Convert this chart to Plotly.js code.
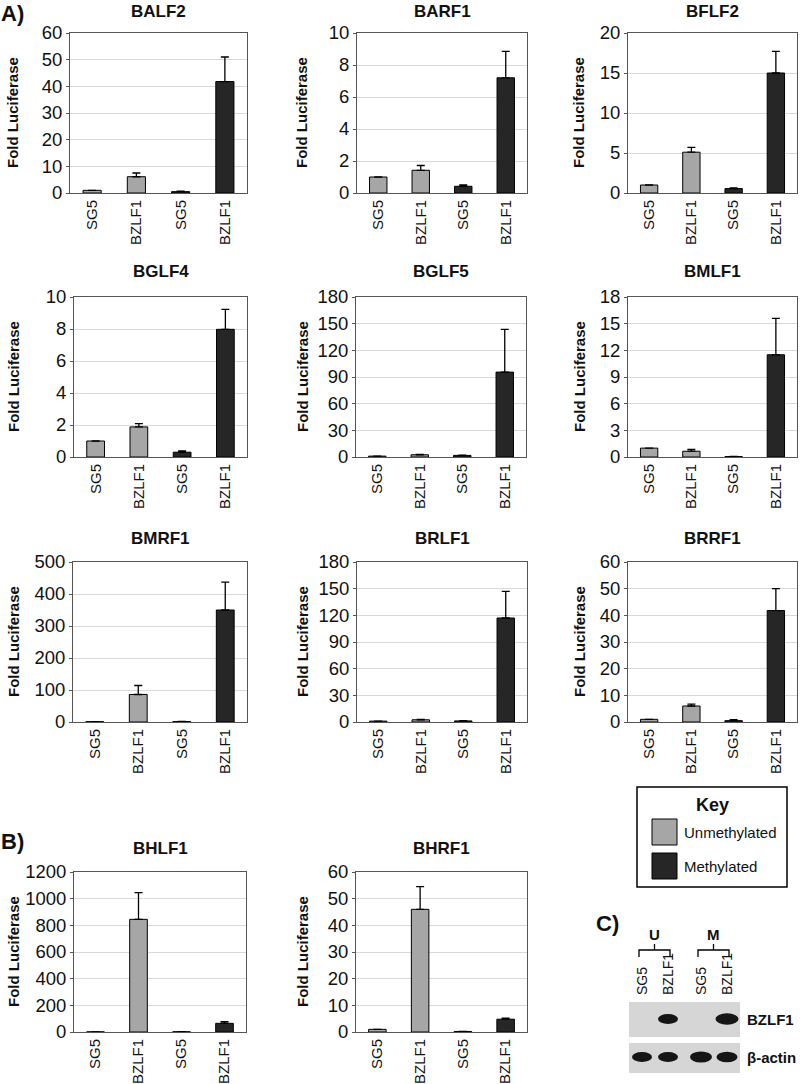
<!DOCTYPE html>
<html>
<head>
<meta charset="utf-8">
<script src="https://cdn.plot.ly/plotly-3.0.1.min.js"></script>
<style>html,body{margin:0;padding:0;background:#fff}#chart{width:800px;height:1084px}</style>
</head>
<body>
<div id="chart"></div>
<script>
// ---------- DATA ----------
const categories = ['SG5', 'BZLF1', 'SG5', 'BZLF1'];
const groups = ['Unmethylated', 'Unmethylated', 'Methylated', 'Methylated'];
const panelNames = ['BALF2','BARF1','BFLF2','BGLF4','BGLF5','BMLF1','BMRF1','BRLF1','BRRF1','BHLF1','BHRF1'];

const BALF2 = [1.0, 6.1, 0.5, 41.8];   const BALF2_err = [null, 1.4, 0.2, 9.2];
const BARF1 = [1.0, 1.42, 0.42, 7.2];  const BARF1_err = [null, 0.3, 0.08, 1.65];
const BFLF2 = [1.0, 5.1, 0.55, 15.0];  const BFLF2_err = [null, 0.6, 0.1, 2.7];
const BGLF4 = [1.0, 1.88, 0.3, 7.98];  const BGLF4_err = [null, 0.2, 0.08, 1.25];
const BGLF5 = [1.0, 2.5, 1.8, 95.5];   const BGLF5_err = [null, 0.4, 0.3, 48];
const BMLF1 = [1.0, 0.65, 0.05, 11.5]; const BMLF1_err = [null, 0.2, 0.02, 4.1];
const BMRF1 = [1.0, 86, 1.5, 350];     const BMRF1_err = [null, 28, 0.5, 87];
const BRLF1 = [1.0, 2.5, 1.2, 117];    const BRLF1_err = [null, 0.4, 0.2, 30];
const BRRF1 = [1.0, 6.0, 0.5, 41.8];   const BRRF1_err = [null, 0.7, 0.4, 8.2];
const BHLF1 = [1.0, 845, 1.5, 65];     const BHLF1_err = [null, 200, 0.5, 12];
const BHRF1 = [1.0, 46, 0.2, 4.8];     const BHRF1_err = [null, 8.5, 0.05, 0.4];

const yMax  = [60, 10, 20, 10, 180, 18, 500, 180, 60, 1200, 60];
const yStep = [10, 2, 5, 2, 30, 3, 100, 30, 10, 200, 10];

const keyLabels = ['Unmethylated', 'Methylated'];
const blotLanes = ['SG5', 'BZLF1', 'SG5', 'BZLF1'];
const blotGroups = ['U', 'M'];
const bzlf1Band = [0, 1, 0, 1.15];
const actinBand = [1, 1, 1.1, 1.05];

// ---------- STYLE / LAYOUT ----------
const W = 800, H = 1084;
const px = x => x / W;
const py = y => 1 - y / H;
const GRAY = '#a6a6a6', DARK = '#262626';
const groupColor = {Unmethylated: GRAY, Methylated: DARK};
const FONT = 'Arial, "Liberation Sans", sans-serif';

const seriesVals = [BALF2, BARF1, BFLF2, BGLF4, BGLF5, BMLF1, BMRF1, BRLF1, BRRF1, BHLF1, BHRF1];
const seriesErr = [BALF2_err, BARF1_err, BFLF2_err, BGLF4_err, BGLF5_err, BMLF1_err, BMRF1_err, BRLF1_err, BRRF1_err, BHLF1_err, BHRF1_err];

// plot boxes in pixels [x0, x1, y0, y1]
const boxes = [
  [70, 247, 33, 193], [357, 527, 33, 193], [628, 797, 33, 193],
  [74, 247, 297, 457], [356, 526, 297, 457], [628, 797, 297, 457],
  [73, 247, 562, 722], [357, 527, 562, 722], [628, 797, 562, 722],
  [74, 246, 872, 1032], [356, 527, 872, 1032]
];
const titleY = [12, 12, 12, 272, 272, 272, 538, 538, 538, 848, 848];
const ytitleX = [13, 302, 579, 13, 302, 579, 13, 302, 579, 13, 302];

const traces = [];
const layout = {
  width: W, height: H, margin: {l: 0, r: 0, t: 0, b: 0},
  paper_bgcolor: '#fff', plot_bgcolor: '#fff', showlegend: false,
  font: {family: FONT, color: '#111'},
  annotations: [], shapes: []
};

panelNames.forEach((name, i) => {
  const n = i === 0 ? '' : String(i + 1);
  const b = boxes[i];
  traces.push({
    type: 'bar', name: name,
    x: categories.map((c, k) => k), y: seriesVals[i],
    xaxis: 'x' + n, yaxis: 'y' + n,
    width: 0.41,
    marker: {color: groups.map(g => groupColor[g]), line: {color: '#000', width: 1}},
    error_y: {type: 'data', symmetric: false, array: seriesErr[i],
              arrayminus: seriesErr[i].map(v => v == null ? null : 0),
              color: '#000', thickness: 1.3, width: 4},
    hoverinfo: 'skip'
  });
  layout['xaxis' + n] = {
    domain: [px(b[0]), px(b[1])], anchor: 'y' + n, range: [-0.5, 3.5],
    tickvals: [0, 1, 2, 3], ticktext: categories, tickangle: -90,
    tickfont: {family: FONT, size: 15, color: '#111'},
    showline: true, mirror: true, linecolor: '#555', linewidth: 1,
    showgrid: false, zeroline: false, ticks: '', fixedrange: true
  };
  layout['yaxis' + n] = {
    domain: [py(b[3]), py(b[2])], anchor: 'x' + n, range: [0, yMax[i]],
    tick0: 0, dtick: yStep[i],
    tickfont: {family: FONT, size: 18.5, color: '#111'},
    showline: true, mirror: true, linecolor: '#555', linewidth: 1,
    showgrid: true, gridcolor: '#d9d9d9', gridwidth: 1, zeroline: false,
    ticks: 'outside', ticklen: 3, tickcolor: '#555', fixedrange: true
  };
  layout.annotations.push({
    text: name, xref: 'paper', yref: 'paper', x: px((b[0] + b[1]) / 2), y: py(titleY[i]),
    showarrow: false, xanchor: 'center', yanchor: 'middle',
    font: {family: FONT, size: 17, weight: 'bold', color: '#111'}
  });
  layout.annotations.push({
    text: 'Fold Luciferase', xref: 'paper', yref: 'paper', x: px(ytitleX[i]), y: py((b[2] + b[3]) / 2),
    showarrow: false, textangle: -90, xanchor: 'center', yanchor: 'middle',
    font: {family: FONT, size: 15, weight: 'bold', color: '#111'}
  });
});

// Panel letters
[['A)', 12, 13], ['B)', 12, 841], ['C)', 607, 923]].forEach(([t, x, y]) => {
  layout.annotations.push({text: t, xref: 'paper', yref: 'paper', x: px(x), y: py(y),
    showarrow: false, xanchor: 'center', yanchor: 'middle',
    font: {family: FONT, size: 22, weight: 'bold', color: '#111'}});
});

// Key box
layout.shapes.push({type: 'rect', xref: 'paper', yref: 'paper', x0: px(637), x1: px(787), y0: py(787), y1: py(887),
  line: {color: '#000', width: 1.5}, fillcolor: '#fff'});
layout.annotations.push({text: 'Key', xref: 'paper', yref: 'paper', x: px(712), y: py(805), showarrow: false,
  xanchor: 'center', yanchor: 'middle', font: {family: FONT, size: 18, weight: 'bold', color: '#111'}});
keyLabels.forEach((lab, k) => {
  const yc = 832 + k * 34;
  layout.shapes.push({type: 'rect', xref: 'paper', yref: 'paper', x0: px(652), x1: px(677), y0: py(yc - 13), y1: py(yc + 13),
    line: {color: '#000', width: 1}, fillcolor: groupColor[lab]});
  layout.annotations.push({text: lab, xref: 'paper', yref: 'paper', x: px(682), y: py(yc), showarrow: false,
    xanchor: 'left', yanchor: 'middle', font: {family: FONT, size: 15, color: '#111'}});
});

// Western blot (panel C)
const laneX = [642, 668, 701, 727];
const blotRows = [[1002, 1037, bzlf1Band, 'BZLF1', 1019], [1043, 1073, actinBand, 'β-actin', 1057]];
blotRows.forEach(([y0, y1, band, lab, yc]) => {
  layout.shapes.push({type: 'rect', xref: 'paper', yref: 'paper', x0: px(629), x1: px(740), y0: py(y0), y1: py(y1),
    line: {width: 0}, fillcolor: '#d6d6d6'});
  band.forEach((s, k) => {
    if (s > 0) {
      const hw = 10 * s, hh = 5 * s;
      layout.shapes.push({type: 'circle', xref: 'paper', yref: 'paper',
        x0: px(laneX[k] - hw), x1: px(laneX[k] + hw), y0: py(yc - hh), y1: py(yc + hh),
        line: {width: 0}, fillcolor: '#151515'});
    }
  });
  layout.annotations.push({text: lab, xref: 'paper', yref: 'paper', x: px(745), y: py(yc), showarrow: false,
    xanchor: 'left', yanchor: 'middle', font: {family: FONT, size: 15, weight: 'bold', color: '#111'}});
});
blotLanes.forEach((lab, k) => {
  layout.annotations.push({text: lab, xref: 'paper', yref: 'paper', x: px(laneX[k]), y: py(997), showarrow: false,
    textangle: -90, xanchor: 'center', yanchor: 'bottom', font: {family: FONT, size: 14, color: '#111'}});
});
blotGroups.forEach((g, k) => {
  const xa = laneX[2 * k] - 3, xb = laneX[2 * k + 1] + 2, xm = (xa + xb) / 2;
  layout.shapes.push({type: 'path', xref: 'paper', yref: 'paper',
    path: `M${px(xa)},${py(957)} L${px(xa)},${py(950)} L${px(xb)},${py(950)} L${px(xb)},${py(957)} M${px(xm)},${py(950)} L${px(xm)},${py(944)}`,
    line: {color: '#000', width: 1.3}});
  layout.annotations.push({text: g, xref: 'paper', yref: 'paper', x: px(xm), y: py(934), showarrow: false,
    xanchor: 'center', yanchor: 'middle', font: {family: FONT, size: 15, weight: 'bold', color: '#111'}});
});

Plotly.newPlot('chart', traces, layout, {staticPlot: true, displayModeBar: false});
</script>
</body>
</html>
